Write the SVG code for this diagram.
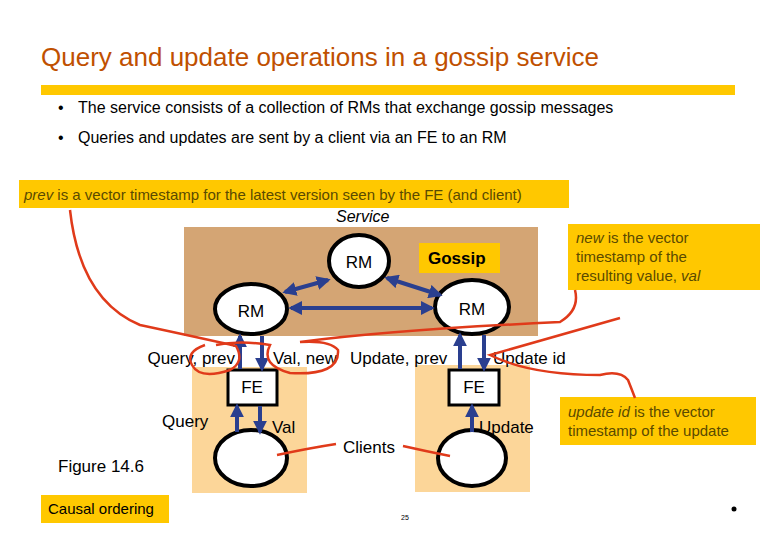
<svg xmlns="http://www.w3.org/2000/svg" width="780" height="540" viewBox="0 0 780 540">
<defs>
<style>
text{font-family:"Liberation Sans",Arial,sans-serif}
.t{font-size:17px;fill:#000}
.n{fill:#fff;stroke:#000;stroke-width:4}
.a{stroke:#2a3f8f;stroke-width:4;fill:none}
.r{stroke:#e03a1a;stroke-width:2.5;fill:none}
.y{fill:#ffc800}
.note{font-size:15px;fill:#5a4a00}
</style>
<marker id="ah" viewBox="0 0 10 10" refX="8" refY="5" markerWidth="3.5" markerHeight="3.5" orient="auto-start-reverse"><path d="M0,0L10,5L0,10z" fill="#2a3f8f"/></marker>
</defs>
<rect width="780" height="540" fill="#fff"/>
<text x="41" y="66" font-size="26" fill="#c05000">Query and update operations in a gossip service</text>
<rect x="41" y="85" width="694" height="10" class="y"/>
<text x="58" y="113" font-size="16">•</text><text x="78" y="113" font-size="16">The service consists of a collection of RMs that exchange gossip messages</text>
<text x="58" y="143" font-size="16">•</text><text x="78" y="143" font-size="16">Queries and updates are sent by a client via an FE to an RM</text>
<rect x="19" y="180" width="550" height="28" class="y"/>
<text x="24" y="200" class="note"><tspan font-style="italic">prev</tspan> is a vector timestamp for the latest version seen by the FE (and client)</text>
<text x="336" y="222" font-size="16" font-style="italic">Service</text>
<rect x="184" y="227" width="354" height="109" fill="#d4a574"/>
<rect x="192" y="367" width="115" height="126" fill="#fcd699"/>
<rect x="415" y="365" width="115" height="127" fill="#fcd699"/>
<g id="gossip"><rect x="419" y="243" width="81" height="30" class="y"/><text x="428" y="264" class="t" font-weight="bold" fill="#333">Gossip</text></g>
<g id="rm-top"><ellipse cx="359" cy="261" rx="30" ry="26" class="n"/><text x="359" y="268" class="t" text-anchor="middle">RM</text></g>
<g id="rm-left"><ellipse cx="251" cy="309" rx="36" ry="25" class="n"/><text x="251" y="317" class="t" text-anchor="middle">RM</text></g>
<g id="rm-right"><ellipse cx="472" cy="307" rx="37" ry="27" class="n"/><text x="472" y="315" class="t" text-anchor="middle">RM</text></g>
<g id="fe-left"><rect x="228" y="370" width="49" height="35" fill="#fff" stroke="#000" stroke-width="3"/><text x="252" y="393" class="t" text-anchor="middle">FE</text></g>
<g id="fe-right"><rect x="449" y="370" width="50" height="35" fill="#fff" stroke="#000" stroke-width="3"/><text x="474" y="393" class="t" text-anchor="middle">FE</text></g>
<g id="client-left"><ellipse cx="251" cy="458" rx="36" ry="28" class="n"/></g>
<g id="client-right"><ellipse cx="472" cy="458" rx="34" ry="28" class="n"/></g>
<g id="connectors">
<line x1="285" y1="292" x2="328" y2="280" class="a" marker-start="url(#ah)" marker-end="url(#ah)"/>
<line x1="387" y1="278" x2="440" y2="295" class="a" marker-start="url(#ah)" marker-end="url(#ah)"/>
<line x1="291" y1="308" x2="432" y2="308" class="a" marker-start="url(#ah)" marker-end="url(#ah)"/>
<line x1="240" y1="369" x2="240" y2="336" class="a" marker-end="url(#ah)"/>
<line x1="262" y1="336" x2="262" y2="369" class="a" marker-end="url(#ah)"/>
<line x1="460" y1="369" x2="460" y2="335" class="a" marker-end="url(#ah)"/>
<line x1="484" y1="335" x2="484" y2="369" class="a" marker-end="url(#ah)"/>
<line x1="237" y1="432" x2="237" y2="406" class="a" marker-end="url(#ah)"/>
<line x1="260" y1="406" x2="260" y2="432" class="a" marker-end="url(#ah)"/>
<line x1="472" y1="432" x2="472" y2="406" class="a" marker-end="url(#ah)"/>
</g>
<text x="235" y="364" class="t" text-anchor="end">Query, prev</text>
<text x="273" y="364" class="t">Val, new</text>
<text x="350" y="364" class="t">Update, prev</text>
<text x="493" y="364" class="t">Update id</text>
<text x="162" y="427" class="t">Query</text>
<text x="272" y="433" class="t">Val</text>
<text x="479" y="433" class="t">Update</text>
<text x="343" y="453" class="t">Clients</text>
<text x="58" y="472" class="t" fill="#c05000">Figure 14.6</text>
<rect x="41" y="495" width="128" height="28" class="y"/>
<text x="48" y="514" font-size="15">Causal ordering</text>
<text x="405" y="520" font-size="7" text-anchor="middle">25</text>
<circle cx="734" cy="509" r="2.5" fill="#000"/>
<rect x="568" y="224" width="192" height="66" class="y"/>
<text class="note" font-size="15"><tspan x="576" y="243"><tspan font-style="italic">new</tspan> is the vector</tspan><tspan x="576" y="262">timestamp of the</tspan><tspan x="576" y="281">resulting value, <tspan font-style="italic">val</tspan></tspan></text>
<rect x="560" y="397" width="196" height="48" class="y"/>
<text class="note" font-size="15"><tspan x="568" y="417"><tspan font-style="italic">update id</tspan> is the vector</tspan><tspan x="568" y="436">timestamp of the update</tspan></text>
<g id="annotations">
<path d="M70,210 Q80,300 140,325 Q210,340 236,346 Q245,362 230,370 Q200,380 192,365 Q185,352 205,345" class="r"/>
<path d="M216,345 Q240,340 270,345 Q260,365 290,373 Q340,376 338,350 Q330,340 300,342 Q390,330 560,322 Q580,310 575,290" class="r"/>
<path d="M620,318 Q560,335 490,355 Q530,375 600,375 Q620,370 628,380 Q632,390 635,398" class="r"/>
<path d="M277,455 Q310,448 336,444" class="r"/>
<path d="M403,446 Q425,451 450,456" class="r"/>
</g>
</svg>
